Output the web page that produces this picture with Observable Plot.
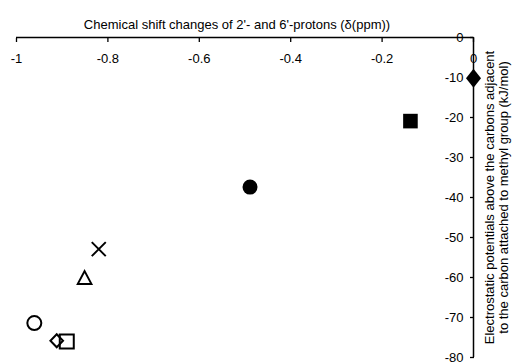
<!DOCTYPE html>
<html>
<head>
<meta charset="utf-8">
<script src="https://cdn.jsdelivr.net/npm/d3@7"></script>
<script src="https://cdn.jsdelivr.net/npm/@observablehq/plot@0.6"></script>
<style>
  html, body { margin: 0; padding: 0; background: #fff; }
  #chart { width: 517px; height: 364px; }
</style>
</head>
<body>
<div id="chart"></div>
<script>
// ---- data ----
const markers   = ["diamondFilled", "squareFilled", "circleFilled", "times", "triangleOpen", "circleOpen", "diamondOpen", "squareOpen"];
const shiftPpm  = [0.0, -0.138, -0.489, -0.820, -0.851, -0.961, -0.912, -0.890];
const potential = [-10.2, -20.9, -37.4, -52.9, -60.0, -71.4, -75.8, -76.0];

const xTickValues = [-1, -0.8, -0.6, -0.4, -0.2, 0];
const xTickLabels = ["-1", "-0.8", "-0.6", "-0.4", "-0.2", "0"];
const yTickValues = [0, -10, -20, -30, -40, -50, -60, -70, -80];
const yTickLabels = ["0", "-10", "-20", "-30", "-40", "-50", "-60", "-70", "-80"];

const xTitle = "Chemical shift changes of 2'- and 6'-protons (\u03b4(ppm))";
const yTitle = "Electrostatic potentials above the carbons adjacent\nto the carbon attached to methyl group (kJ/mol)";

// ---- marker styles ----
const sym = (f) => ({ draw(ctx) { f(ctx); } });
const diamond = (hw, hh) => sym(c => { c.moveTo(0, -hh); c.lineTo(hw, 0); c.lineTo(0, hh); c.lineTo(-hw, 0); c.closePath(); });
const square = (h) => sym(c => { c.moveTo(-h, -h); c.lineTo(h, -h); c.lineTo(h, h); c.lineTo(-h, h); c.closePath(); });
const circle = (r) => sym(c => { c.moveTo(r, 0); c.arc(0, 0, r, 0, 2 * Math.PI); c.closePath(); });
const times = (h) => sym(c => { c.moveTo(-h, -h); c.lineTo(h, h); c.moveTo(h, -h); c.lineTo(-h, h); });
const triangle = (hw, hh) => sym(c => { c.moveTo(0, -hh); c.lineTo(hw, hh); c.lineTo(-hw, hh); c.closePath(); });

const styles = {
  diamondFilled: { symbol: diamond(7.5, 9.5), fill: "black", stroke: "none" },
  squareFilled:  { symbol: square(7.3), fill: "black", stroke: "none" },
  circleFilled:  { symbol: circle(7.5), fill: "black", stroke: "none" },
  times:         { symbol: times(7), fill: "none", stroke: "black", strokeWidth: 2 },
  triangleOpen:  { symbol: triangle(6.8, 6.4), fill: "none", stroke: "black", strokeWidth: 2 },
  circleOpen:    { symbol: circle(7), fill: "none", stroke: "black", strokeWidth: 2 },
  diamondOpen:   { symbol: diamond(6.3, 6.5), fill: "none", stroke: "black", strokeWidth: 2 },
  squareOpen:    { symbol: square(7), fill: "none", stroke: "black", strokeWidth: 2 }
};

const points = markers.map((m, i) => ({ marker: m, x: shiftPpm[i], y: potential[i] }));

const font = "'Liberation Sans', Arial, Helvetica, sans-serif";
const fs = 13;

const dotMarks = markers.map(m =>
  Plot.dot(points.filter(p => p.marker === m), { x: "x", y: "y", ...styles[m] })
);

const chart = Plot.plot({
  width: 517,
  height: 364,
  marginLeft: 16,
  marginRight: 44,
  marginTop: 37,
  marginBottom: 7,
  style: { fontFamily: font, fontSize: fs + "px", background: "white", color: "black" },
  x: { domain: [-1, 0] },
  y: { domain: [-80, 0] },
  marks: [
    Plot.axisX(xTickValues, { anchor: "top", tickSize: -4, fill: "none", label: null, strokeWidth: 1.3 }),
    Plot.axisY(yTickValues, { anchor: "right", tickSize: -4, fill: "none", label: null, strokeWidth: 1.3 }),
    Plot.ruleY([0], { stroke: "black", strokeWidth: 1.5 }),
    Plot.ruleX([0], { stroke: "black", strokeWidth: 1.5 }),
    Plot.text(xTickValues, { x: d => d, frameAnchor: "top", dy: 16, text: (d, i) => xTickLabels[i], fontSize: fs, fill: "black" }),
    Plot.text(yTickValues, { y: d => d, frameAnchor: "right", dx: -10, textAnchor: "end", text: (d, i) => yTickLabels[i], fontSize: fs, fill: "black" }),
    Plot.text([xTitle], { frameAnchor: "top", dx: -8, dy: -18, fontSize: fs, fill: "black" }),
    Plot.text([yTitle], { frameAnchor: "right", dx: 23, rotate: -90, textAnchor: "middle", lineAnchor: "middle", lineHeight: 1.1, fontSize: fs, fill: "black" }),
    ...dotMarks
  ]
});

document.getElementById("chart").appendChild(chart);
</script>
</body>
</html>
